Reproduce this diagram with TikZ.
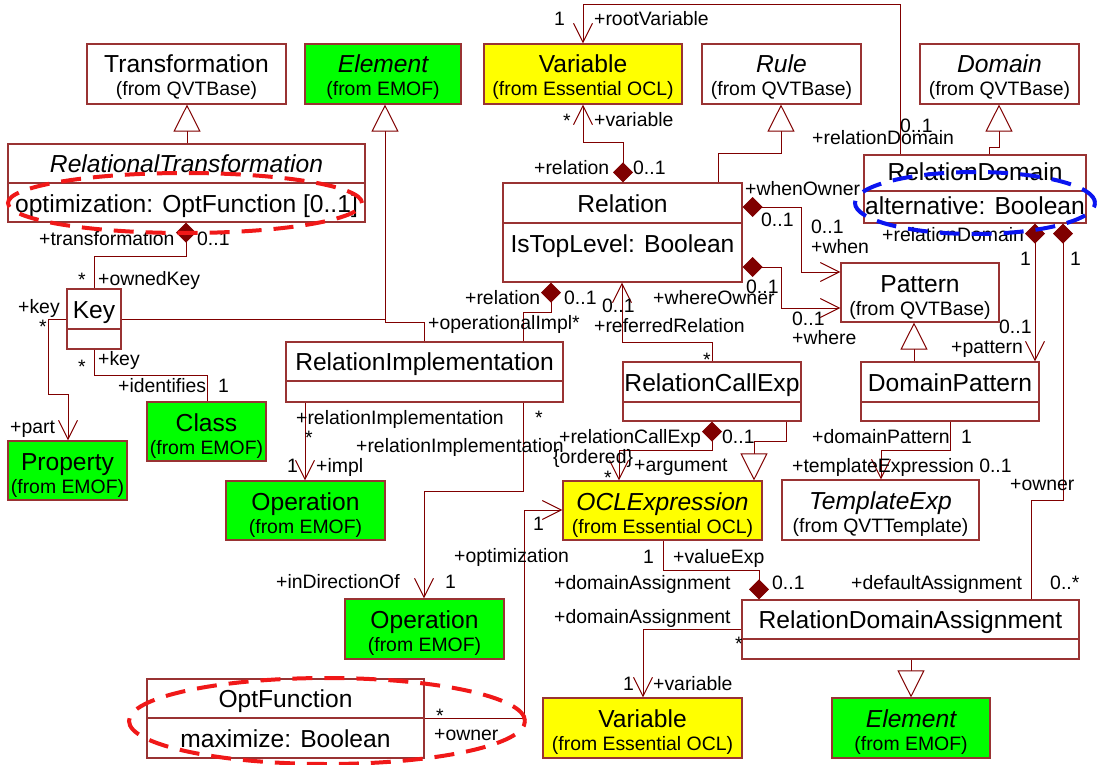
\documentclass[tikz,border=0pt]{standalone}
\usepackage{fontspec}
\setmainfont{Liberation Sans}
\usetikzlibrary{arrows.meta, fit}
\definecolor{umlline}{HTML}{800000}
\definecolor{umlborder}{HTML}{993333}
\definecolor{emofgreen}{HTML}{00FF00}
\definecolor{oclyellow}{HTML}{FFFF00}
\definecolor{markred}{HTML}{F01818}
\definecolor{markblue}{HTML}{0A14F0}

\tikzset{
  box/.style={draw=umlborder, line width=1.1pt, inner sep=0pt},
  ttl/.style={font=\fontsize{24.6}{28}\selectfont, anchor=base, inner sep=0pt},
  lbl/.style={font=\fontsize{19.4}{22}\selectfont, anchor=base west, inner sep=0pt},
  assoc/.style={draw=umlline, line width=1pt},
  nav/.style={assoc, -{Straight Barb[length=19pt, width=19pt]}},
  comp/.style={assoc, {Diamond[length=20pt, width=20pt, fill=umlline]}-},
  compnav/.style={assoc, {Diamond[length=20pt, width=20pt, fill=umlline]}-{Straight Barb[length=19pt, width=19pt]}},
  gen/.style={assoc, -{Triangle[length=27pt, width=27pt, fill=white]}},
  ring/.style={line width=4pt, dash pattern=on 20pt off 12pt},
}

% class with name and attribute compartments
\newcommand{\umlclass}[8]{%
  \node[box, fill=white, fit={(#2,#3) (#4,#6)}] (#1) {};
  \draw[umlborder, line width=1.1pt] (#1.west |- 0,#5) -- (#1.east |- 0,#5);
  \node[ttl] (#1-name) at ({(#2+#4)/2},#5-11) {#7};
  \node[ttl] (#1-attr) at ({(#2+#4)/2},{min(#5+29,#6-9)}) {#8};}
% class from another package
\newcommand{\umlref}[8]{%
  \node[box, fill=#6, fit={(#2,#3) (#4,#5)}] (#1) {};
  \node[ttl] (#1-name) at ({(#2+#4)/2},#3+29) {#7};
  \node[lbl, anchor=base] (#1-pkg) at ({(#2+#4)/2},#3+52) {(from #8)};}
\newcommand{\role}[3]{\node[lbl] (#1) at (#2) {#3};}

\begin{document}
\begin{tikzpicture}[x=1pt, y=-1pt]
\useasboundingbox (0,0) rectangle (1100,765);

% imported classes
\umlref{transformation}{87}{44}{286}{104}{white}{Transformation}{QVTBase}
\umlref{element}{305}{44}{461}{104}{emofgreen}{\itshape Element}{EMOF}
\umlref{variable}{484}{44}{682}{104}{oclyellow}{Variable}{Essential OCL}
\umlref{rule}{702}{44}{861}{104}{white}{\itshape Rule}{QVTBase}
\umlref{domain}{920}{44}{1079}{104}{white}{\itshape Domain}{QVTBase}
\umlref{pattern}{841}{263}{999}{322}{white}{Pattern}{QVTBase}
\umlref{class}{147}{402}{266}{461}{emofgreen}{Class}{EMOF}
\umlref{property}{8}{441}{127}{500}{emofgreen}{Property}{EMOF}
\umlref{operation}{226}{481}{385}{540}{emofgreen}{Operation}{EMOF}
\umlref{oclexp}{563}{481}{762}{540}{oclyellow}{\itshape OCLExpression}{Essential OCL}
\umlref{templexp}{782}{480}{979}{540}{white}{\itshape TemplateExp}{QVTTemplate}
\umlref{dirop}{345}{599}{504}{659}{emofgreen}{Operation}{EMOF}
\umlref{rdavariable}{543}{698}{742}{758}{oclyellow}{Variable}{Essential OCL}
\umlref{rdaelement}{832}{698}{990}{758}{emofgreen}{\itshape Element}{EMOF}

% relations package
\umlclass{reltrans}{8}{144}{365}{183}{222}{\itshape RelationalTransformation}{optimization: OptFunction [0..1]}
\umlclass{relation}{503}{183}{742}{223}{282}{Relation}{IsTopLevel: Boolean}
\umlclass{reldomain}{864}{155}{1086}{191}{223}{RelationDomain}{alternative: Boolean}
\umlclass{key}{67}{289}{121}{329}{349}{Key}{}
\umlclass{relimpl}{286}{342}{563}{381}{402}{RelationImplementation}{}
\umlclass{callexp}{623}{362}{801}{402}{421}{RelationCallExp}{}
\umlclass{dompattern}{861}{362}{1039}{402}{421}{DomainPattern}{}
\umlclass{rda}{742}{600}{1079}{639}{659}{RelationDomainAssignment}{}
\umlclass{optfunc}{147}{679}{424}{718}{758}{OptFunction}{maximize: Boolean}

% generalizations
\draw[gen] (reltrans.north -| 187,0) -- (transformation.south -| 187,0);
\draw[gen] (relimpl.north -| 424,0) |- (385,322) -- (element.south -| 385,0);
\coordinate (keyjoin) at (385,319);
\draw[assoc] (key.east |- 0,319) -- (keyjoin);
\draw[gen] (relation.north -| 718,0) |- (781,153) -- (rule.south -| 781,0);
\draw[gen] (reldomain.north -| 989,0) |- (999,148) -- (domain.south -| 999,0);
\draw[gen] (dompattern.north -| 914,0) -- (pattern.south -| 914,0);
\draw[gen] (callexp.south -| 786,0) |- (754,441) -- (oclexp.north -| 754,0);
\draw[gen] (rda.south -| 911,0) -- (rdaelement.north -| 911,0);

% associations
\draw[nav] (reldomain.north -| 900,0) |- (583,5) -- (variable.north -| 583,0);
\draw[compnav] (relation.north -| 623,0) |- (583,143) -- (variable.south -| 583,0);
\draw[compnav] (relation.east |- 0,207) -| (801,272) -- (pattern.west |- 0,272);
\draw[compnav] (relation.east |- 0,267) -| (781,308) -- (pattern.west |- 0,308);
\draw[compnav] (reldomain.south -| 1035,0) -- (dompattern.north -| 1035,0);
\draw[comp] (reldomain.south -| 1063,0) |- (1031,500) -- (rda.north -| 1031,0);
\draw[nav] (dompattern.south -| 950,0) |- (881,450) -- (templexp.north -| 881,0);
\draw[nav] (callexp.north -| 712,0) |- (622,342) -- (relation.south -| 622,0);
\draw[comp] (relation.south -| 551,0) |- (523,312) -- (relimpl.north -| 523,0);
\draw[nav] (relimpl.south -| 305,0) -- (operation.north -| 305,0);
\draw[nav] (relimpl.south -| 523,0) |- (424,491) -- (dirop.north -| 424,0);
\draw[comp] (reltrans.south -| 186,0) |- (94,256) -- (key.north -| 94,0);
\draw[assoc] (key.south -| 94,0) |- (207,375) -- (class.north -| 207,0);
\draw[nav] (key.west |- 0,319) -| (48,394) -- (68,394) -- (property.north -| 68,0);
\draw[compnav] (callexp.south -| 712,0) |- (619,450) -- (oclexp.north -| 619,0);
\draw[nav] (optfunc.east |- 0,718) -| (524,510) -- (oclexp.west |- 0,510);
\draw[comp] (rda.north -| 759,0) |- (663,570) -- (oclexp.south -| 663,0);
\draw[nav] (rda.west |- 0,629) -| (rdavariable.north -| 643,0);

% role names and multiplicities
\role{rootvar-mult}{554,26}{1}
\role{rootvar-role}{594,26}{+rootVariable}
\role{var-mult}{563,128}{*}
\role{var-role}{594,127}{+variable}
\role{rootvar-owner}{812,145}{+relationDomain}
\role{rootvar-ownmult}{900,133}{0..1}
\role{var-owner}{534,174}{+relation}
\role{var-ownmult}{633,174}{0..1}
\role{when-owner}{745,195}{+whenOwner}
\role{when-ownmult}{761,226}{0..1}
\role{when-mult}{811,233}{0..1}
\role{when-role}{811,253}{+when}
\role{pat-owner}{882,241}{+relationDomain}
\role{pat-ownmult}{1020,265}{1}
\role{def-ownmult}{1070,265}{1}
\role{key-owner}{39,245}{+transformation}
\role{key-ownmult}{197,245}{0..1}
\role{key-mult}{78,286}{*}
\role{key-role}{98,285}{+ownedKey}
\role{part-owner}{18,313}{+key}
\role{part-ownmult}{39,333}{*}
\role{impl-owner}{465,304}{+relation}
\role{impl-ownmult}{564,304}{0..1}
\role{ref-mult}{602,312}{0..1}
\role{where-owner}{653,304}{+whereOwner}
\role{where-ownmult}{746,293}{0..1}
\role{impl-role}{428,329}{+operationalImpl*}
\role{ref-role}{594,332}{+referredRelation}
\role{where-mult}{792,325}{0..1}
\role{where-role}{792,344}{+where}
\role{pat-mult}{999,333}{0..1}
\role{pat-role}{951,353}{+pattern}
\role{ref-ownmult}{703,366}{*}
\role{cls-owner}{98,365}{+key}
\role{cls-ownmult}{78,373}{*}
\role{cls-role}{118,392}{+identifies}
\role{cls-mult}{218,392}{1}
\role{part-role}{10,433}{+part}
\role{op-owner}{296,424}{+relationImplementation}
\role{op-ownmult}{305,444}{*}
\role{dir-ownmult}{535,424}{*}
\role{dir-owner}{356,452}{+relationImplementation}
\role{op-mult}{287,472}{1}
\role{op-role}{316,472}{+impl}
\role{arg-owner}{559,443}{+relationCallExp}
\role{arg-ownmult}{722,443}{0..1}
\role{arg-order}{553,463}{\{ordered\}}
\role{arg-mult}{604,484}{*}
\role{arg-role}{634,471}{+argument}
\role{tpl-owner}{812,443}{+domainPattern}
\role{tpl-ownmult}{961,443}{1}
\role{tpl-role}{792,472}{+templateExpression 0..1}
\role{def-owner}{1010,490}{+owner}
\role{opt-mult}{533,530}{1}
\role{opt-role}{454,562}{+optimization}
\role{val-mult}{643,563}{1}
\role{val-role}{673,563}{+valueExp}
\role{dir-role}{276,588}{+inDirectionOf}
\role{dir-mult}{445,588}{1}
\role{val-owner}{554,589}{+domainAssignment}
\role{val-ownmult}{772,589}{0..1}
\role{def-role}{851,589}{+defaultAssignment}
\role{def-mult}{1050,589}{0..*}
\role{rv-owner}{554,623}{+domainAssignment}
\role{rv-ownmult}{735,650}{*}
\role{rv-mult}{623,690}{1}
\role{rv-role}{653,690}{+variable}
\role{opt-ownmult}{436,722}{*}
\role{opt-owner}{434,740}{+owner}

% highlights
\draw[markred, ring] (185,203) ellipse [x radius=177pt, y radius=30pt];
\draw[markblue, ring] (975,203) ellipse [x radius=120pt, y radius=31pt];
\draw[markred, ring] (327,721) ellipse [x radius=198pt, y radius=43pt];
\end{tikzpicture}
\end{document}
